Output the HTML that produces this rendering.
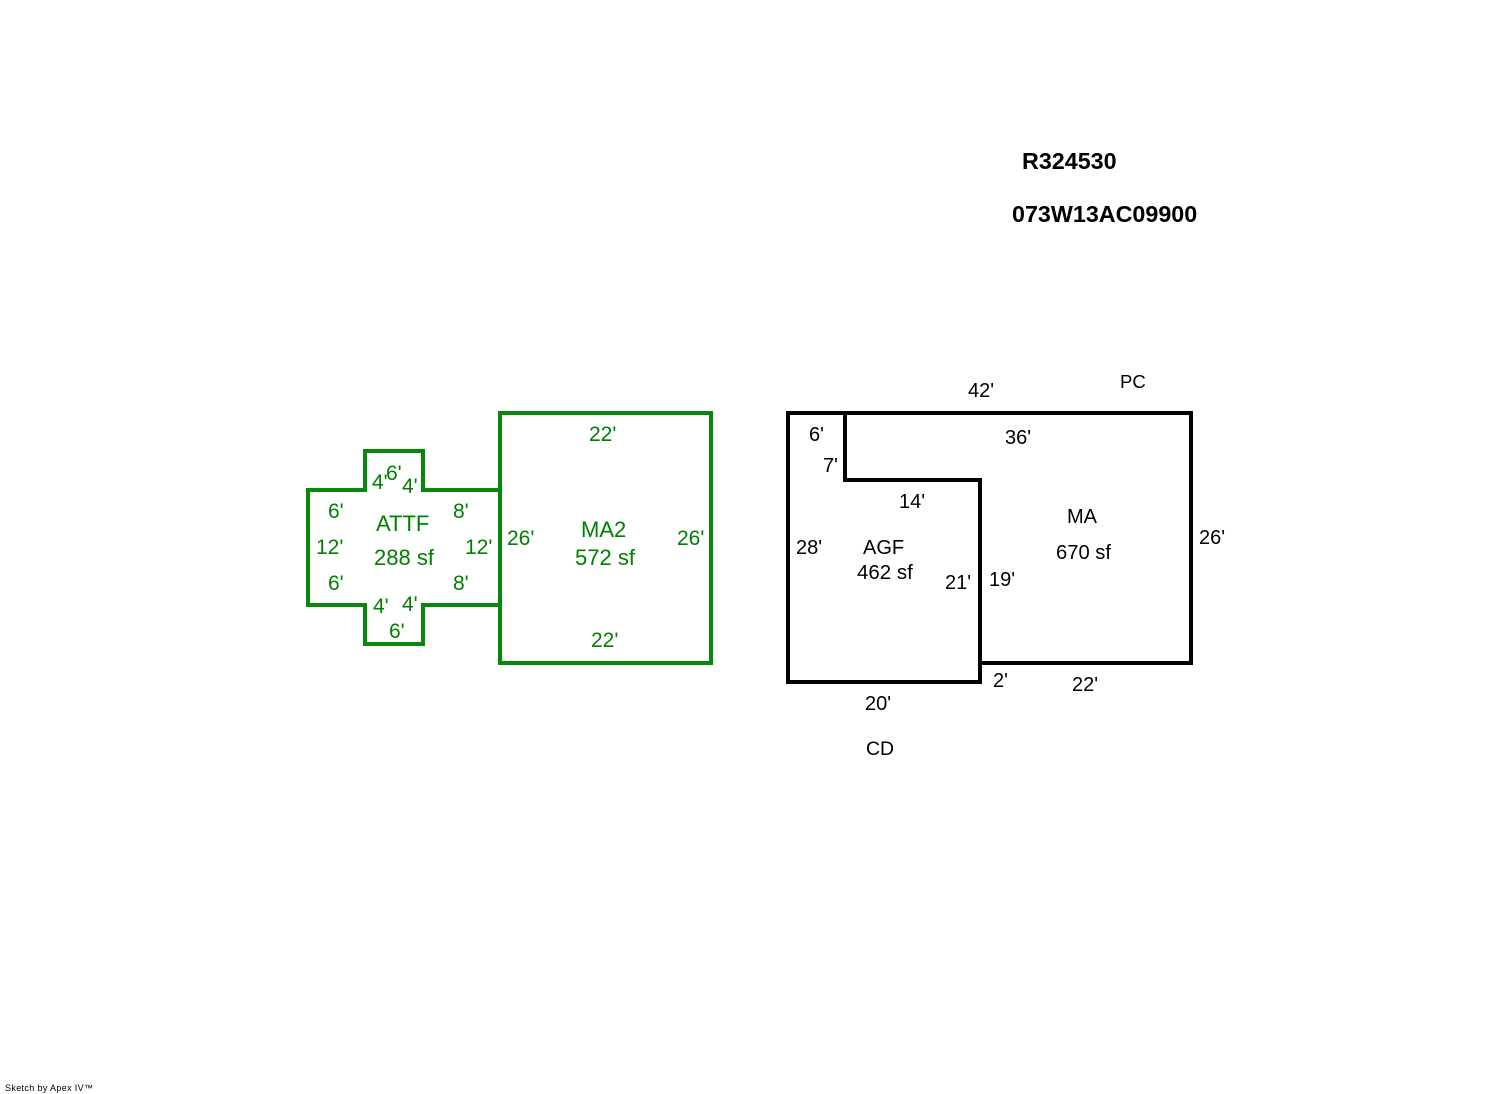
<!DOCTYPE html>
<html>
<head>
<meta charset="utf-8">
<title>Sketch</title>
<style>
html,body{margin:0;padding:0;background:#fff;width:1492px;height:1094px;overflow:hidden}
svg{display:block}
text{font-family:"Liberation Sans",Arial,sans-serif;white-space:pre}
.g text{fill:#008000;font-size:21px}
.g text.l{font-size:22px}
.b text{fill:#000;font-size:20px}
.h text{fill:#000;font-size:23.3px;font-weight:bold}
</style>
</head>
<body>
<svg width="1492" height="1094" viewBox="0 0 1492 1094" xmlns="http://www.w3.org/2000/svg">
<g fill="none" stroke="#088808" stroke-width="4" shape-rendering="crispEdges">
<path d="M500 490H423V451H365V490H308V605H365V644H423V605H500"/>
<rect x="500" y="413" width="211" height="250"/>
</g>
<g fill="none" stroke="#000" stroke-width="4" shape-rendering="crispEdges">
<path d="M788 413H845V480H980V682H788Z"/>
<path d="M845 413H1191V663H980"/>
</g>
<g class="h">
<text x="1022" y="169">R324530</text>
<text x="1012" y="222">073W13AC09900</text>
</g>
<g class="g">
<text x="589" y="441">22'</text>
<text x="372" y="489">4'</text>
<text x="386" y="480">6'</text>
<text x="402" y="493">4'</text>
<text x="328" y="518">6'</text>
<text class="l" x="376" y="531">ATTF</text>
<text x="453" y="518">8'</text>
<text x="316" y="554">12'</text>
<text class="l" x="374" y="565">288 sf</text>
<text x="465" y="554">12'</text>
<text x="507" y="545">26'</text>
<text class="l" x="581" y="537">MA2</text>
<text class="l" x="575" y="565">572 sf</text>
<text x="677" y="545">26'</text>
<text x="328" y="590">6'</text>
<text x="453" y="590">8'</text>
<text x="373" y="613">4'</text>
<text x="402" y="611">4'</text>
<text x="389" y="638">6'</text>
<text x="591" y="647">22'</text>
</g>
<g class="b">
<text x="968" y="397">42'</text>
<text x="1120" y="388" style="font-size:18.6px">PC</text>
<text x="809" y="441">6'</text>
<text x="1005" y="444">36'</text>
<text x="823" y="472">7'</text>
<text x="899" y="508">14'</text>
<text x="1067" y="523">MA</text>
<text x="863" y="554">AGF</text>
<text x="796" y="554">28'</text>
<text x="1199" y="544">26'</text>
<text x="1056" y="559" style="font-size:20.2px">670 sf</text>
<text x="857" y="579" style="font-size:20.5px">462 sf</text>
<text x="945" y="589">21'</text>
<text x="989" y="586">19'</text>
<text x="993" y="687">2'</text>
<text x="1072" y="691">22'</text>
<text x="865" y="710">20'</text>
<text x="866" y="755" style="font-size:19.4px">CD</text>
</g>
<text x="5" y="1091" font-size="9" fill="#000" textLength="88" lengthAdjust="spacing">Sketch by Apex IV™</text>
</svg>
</body>
</html>
